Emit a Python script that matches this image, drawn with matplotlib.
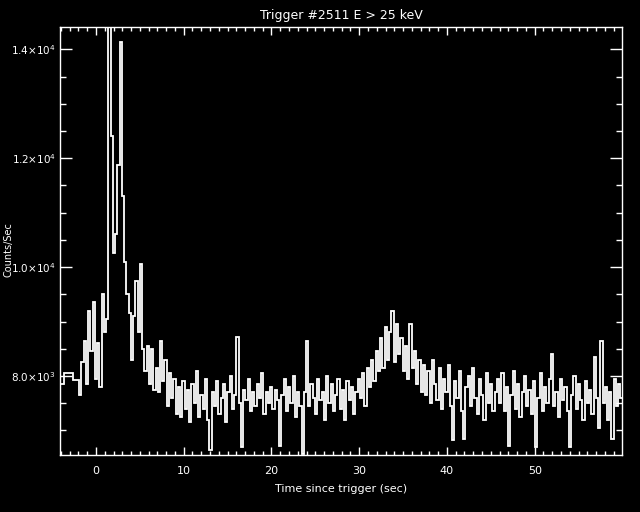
import numpy as np
from matplotlib import pyplot as plt
from matplotlib.ticker import MultipleLocator, FixedLocator

# pre-trigger 1.024 s bins (left edges) and counts
pre_t = [-4.672, -3.648, -2.624]
pre_counts = [7850, 8050, 7930]

# 0.256 s bins from -1.92 s
t0 = -1.92
dt = 0.256
counts = [
    7650, 8260, 8650, 7850, 9200, 8450, 9350, 7950, 8600, 7800,
    9500, 8800, 9050, 14900, 12400, 10250, 10600, 11870, 14130, 11300,
    10100, 9500, 9150, 8300, 9100, 9750, 8800, 10050, 8500, 8100,
    8550, 7850, 8500, 7750,
    8150, 7700, 8650, 7900, 8300, 7450, 8050, 7600, 7950, 7300, 7800, 7250,
    7900, 7400, 7750, 7150, 7850, 7500, 8100, 7250, 7650, 7400, 7950, 7200,
    6650,
    7700, 7450, 7900, 7300, 7600, 7850, 7150, 7700, 8000, 7400, 7650,
    8720, 7500, 6700,
    7750, 7550, 7950, 7350, 7700, 7450, 7850, 7600, 8050, 7300, 7700, 7500, 7800,
    7400, 7750, 7550, 6720,
    7650, 7950, 7350, 7800, 7500, 8000, 7250, 7700, 7450,
    6560, 7700, 8640,
    7450, 7850, 7600, 7300, 7950, 7550, 7700, 7200, 8000, 7500, 7850, 7350,
    7650, 7950, 7400, 7750, 7200, 7900, 7550, 7800, 7300, 7700, 7950,
    7600, 8050, 7450, 8150, 7800, 8300, 7900, 8450, 8100,
    8700, 8150, 8900, 8300, 8800, 9200, 8250, 8950, 8400, 8700, 8100,
    8550, 7950, 8950, 8150, 8450, 7850, 8300, 7700,
    8200, 7650, 8100, 7500, 8300, 7850, 7550, 8150, 7400, 7950, 7700, 8200,
    7450, 6820, 7900, 7600, 8100, 7350, 6850, 7800, 8000, 7450, 8150, 7600,
    7300, 7950, 7650, 7200, 8050, 7500, 7850, 7350, 7700, 7950,
    7500, 8050, 7350, 7800, 6720, 7650, 8100, 7400, 7850, 7250, 7700, 8000,
    7450, 7750, 7300, 7900, 6690, 7600, 8050, 7350, 7800, 7500, 7950, 8400,
    7450, 7700, 7250, 7950, 7550, 7800, 7350, 6700, 7650, 8000, 7400, 7850,
    7550, 7200, 7900, 7500, 7750, 7300, 8350, 7600, 7050, 8650, 7500, 7800,
    7200, 7700, 6850, 7950, 7450, 7850, 7600,
]

fine_t = t0 + dt * np.arange(len(counts))
edges = np.concatenate([pre_t, fine_t, [fine_t[-1] + dt]])
values = np.concatenate([pre_counts, counts])

fg = 'white'
fig = plt.figure(figsize=(6.4, 5.12), dpi=100, facecolor='black')
ax = fig.add_axes([60 / 640, 57 / 512, 562 / 640, 428 / 512], facecolor='black')
ax.stairs(values, edges, color=fg, linewidth=1.3, baseline=None)

ax.set_xlim(-4.1, 59.95)
ax.set_ylim(6549, 14410)

ax.xaxis.set_major_locator(MultipleLocator(10))
ax.xaxis.set_minor_locator(MultipleLocator(1))
ax.yaxis.set_major_locator(FixedLocator([8000, 10000, 12000, 14000]))
ax.yaxis.set_minor_locator(MultipleLocator(500))
ax.set_yticklabels([r'8.0$\times$10$^{3}$', r'1.0$\times$10$^{4}$',
                    r'1.2$\times$10$^{4}$', r'1.4$\times$10$^{4}$'])

ax.tick_params(axis='both', which='both', direction='in', colors=fg,
               top=True, right=True, width=1)
ax.tick_params(axis='x', which='major', length=6, pad=8, labelsize=8)
ax.tick_params(axis='x', which='minor', length=3)
ax.tick_params(axis='y', which='major', length=8.5, pad=3, labelsize=7.5)
ax.tick_params(axis='y', which='minor', length=4)
for s in ax.spines.values():
    s.set_color(fg)
    s.set_linewidth(1)

ax.set_title('Trigger #2511 E > 25 keV', color=fg, fontsize=9, pad=6)
ax.set_xlabel('Time since trigger (sec)', color=fg, fontsize=8, labelpad=6)
fig.text(9 / 640, 1 - 250 / 512, 'Counts/Sec', color=fg, fontsize=7,
         rotation=90, ha='center', va='center')

fig.savefig('out.png', dpi=100, facecolor='black')
